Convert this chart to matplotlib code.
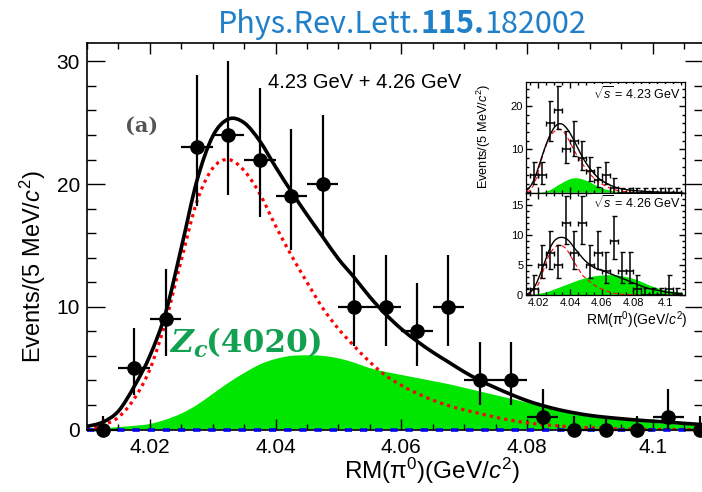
import numpy as np
import matplotlib
matplotlib.use('Agg')
import matplotlib.pyplot as plt
from matplotlib.ticker import MultipleLocator
from matplotlib.path import Path
from matplotlib.patches import PathPatch

plt.rcParams['font.family'] = ['Liberation Sans', 'DejaVu Sans']
plt.rcParams['mathtext.fontset'] = 'custom'
plt.rcParams['mathtext.rm'] = 'Liberation Sans'
plt.rcParams['mathtext.it'] = 'Liberation Sans:italic'
plt.rcParams['mathtext.bf'] = 'Liberation Sans:bold'

W, H = 702, 492

# --- main plot: 4.23 + 4.26 GeV summed ---
bin_x = [4.0125, 4.0175, 4.0225, 4.0275, 4.0325, 4.0375, 4.0425, 4.0475, 4.0525, 4.0575,
         4.0625, 4.0675, 4.0725, 4.0775, 4.0825, 4.0875, 4.0925, 4.0975, 4.1025, 4.1075]
counts = [0, 5, 9, 23, 24, 22, 19, 20, 10, 10, 8, 10, 4, 4, 1, 0, 0, 0, 1, 0]
err_hi = [1.1, 3.3, 4.1, 5.9, 6.0, 5.8, 5.5, 5.6, 4.2, 4.2, 3.9, 4.2, 3.1, 3.1, 2.3, 1.1, 1.1, 1.1, 2.3, 1.1]
err_lo = [0, 2.2, 3.0, 4.8, 4.9, 4.7, 4.4, 4.5, 3.2, 3.2, 2.8, 3.2, 2.0, 2.0, 1.0, 0, 0, 0, 1.0, 0]

curve_x = [4.010, 4.0125, 4.015, 4.0175, 4.020, 4.0225, 4.025, 4.0275, 4.030, 4.0325,
           4.035, 4.0375, 4.040, 4.0425, 4.045, 4.0475, 4.050, 4.0525, 4.055, 4.0575,
           4.060, 4.0625, 4.065, 4.0675, 4.070, 4.0725, 4.075, 4.0775, 4.080, 4.0825,
           4.085, 4.0875, 4.090, 4.0925, 4.095, 4.0975, 4.100, 4.1025, 4.105, 4.108]
total_fit = [0.25, 0.6, 1.5, 3.5, 6.0, 9.5, 14.8, 20.3, 23.9, 25.3,
             25.0, 23.5, 21.4, 19.4, 17.5, 15.7, 13.9, 12.4, 10.8, 9.4,
             8.2, 7.2, 6.3, 5.5, 4.7, 4.0, 3.4, 2.85, 2.35, 1.95,
             1.62, 1.36, 1.15, 1.0, 0.88, 0.77, 0.68, 0.6, 0.5, 0.4]
signal = [0.0, 0.35, 1.0, 2.5, 4.9, 8.8, 13.8, 18.6, 21.3, 22.0,
          21.1, 19.2, 16.6, 14.2, 12.0, 9.9, 8.2, 6.8, 5.5, 4.4,
          3.6, 2.95, 2.4, 1.95, 1.6, 1.3, 1.0, 0.75, 0.55, 0.4,
          0.3, 0.2, 0.15, 0.1, 0.05, 0.02, 0.0, 0.0, 0.0, 0.0]
bkg_green = [0.05, 0.1, 0.2, 0.3, 0.45, 0.8, 1.3, 2.0, 2.9, 3.8,
             4.6, 5.3, 5.75, 6.0, 6.05, 6.0, 5.8, 5.45, 5.0, 4.7,
             4.45, 4.2, 3.95, 3.7, 3.4, 3.1, 2.8, 2.5, 2.2, 1.9,
             1.55, 1.32, 1.1, 0.92, 0.78, 0.66, 0.55, 0.46, 0.38, 0.3]

# --- inset data ---
in_bin_x = [4.0125, 4.0175, 4.0225, 4.0275, 4.0325, 4.0375, 4.0425, 4.0475, 4.0525, 4.0575,
            4.0625, 4.0675, 4.0725, 4.0775, 4.0825, 4.0875, 4.0925, 4.0975, 4.1025, 4.1075]
c423 = [0, 4, 4, 16, 19, 10, 12, 8, 5, 3, 4, 1, 0, 0, 0, 0, 0, 0, 0, 0]
c423_hi = [1.1, 3.1, 3.1, 5.1, 5.5, 4.2, 4.5, 3.9, 3.3, 2.9, 3.1, 2.3, 1.1, 1.1, 1.1, 1.1, 1.1, 1.1, 1.1, 1.1]
c423_lo = [0, 2.0, 2.0, 4.0, 4.4, 3.2, 3.5, 2.8, 2.2, 1.7, 2.0, 1.0, 0, 0, 0, 0, 0, 0, 0, 0]
c426 = [0, 1, 5, 7, 5, 12, 7, 12, 5, 7, 4, 9, 4, 4, 1, 0, 0, 0, 1, 0]
c426_hi = [1.1, 2.3, 3.3, 3.7, 3.3, 4.5, 3.7, 4.5, 3.3, 3.7, 3.1, 4.1, 3.1, 3.1, 2.3, 1.1, 1.1, 1.1, 2.3, 1.1]
c426_lo = [0, 1.0, 2.2, 2.6, 2.2, 3.5, 2.6, 3.5, 2.2, 2.6, 2.0, 3.0, 2.0, 2.0, 1.0, 0, 0, 0, 1.0, 0]

up_x = [4.0125, 4.015, 4.0175, 4.02, 4.0225, 4.025, 4.0275, 4.03, 4.0325, 4.035, 4.0375, 4.04, 4.0425,
        4.045, 4.0475, 4.05, 4.0525, 4.055, 4.0575, 4.06, 4.065, 4.07, 4.075, 4.08, 4.09, 4.1, 4.111]
up_total = [0.5, 1.5, 3.2, 5.8, 8.6, 11.2, 13.4, 15.0, 15.8, 15.8, 15.0, 13.7, 12.0,
            10.2, 8.4, 6.9, 5.6, 4.5, 3.5, 2.8, 1.8, 1.1, 0.75, 0.5, 0.25, 0.1, 0.05]
up_signal = [0.2, 0.6, 2.2, 4.9, 8.3, 11.0, 13.0, 14.1, 14.6, 14.4, 13.2, 11.6, 9.8,
             8.2, 6.8, 5.5, 4.3, 3.4, 2.6, 2.0, 1.1, 0.5, 0.25, 0.1, 0.0, 0.0, 0.0]
up_green = [0, 0, 0, 0.02, 0.1, 0.25, 0.6, 1.1, 1.7, 2.2, 2.7, 3.1, 3.3,
            3.3, 3.1, 2.8, 2.4, 1.9, 1.45, 1.05, 0.5, 0.2, 0.05, 0, 0, 0, 0]

lo_x = [4.0125, 4.015, 4.0175, 4.02, 4.0225, 4.025, 4.0275, 4.03, 4.0325, 4.035, 4.0375, 4.04, 4.0425,
        4.045, 4.0475, 4.05, 4.055, 4.06, 4.065, 4.07, 4.075, 4.08, 4.085, 4.09, 4.095, 4.1, 4.105, 4.111]
lo_total = [0.1, 0.5, 1.3, 2.7, 4.4, 6.2, 7.9, 9.0, 9.5, 9.6, 9.4, 8.8, 7.9,
            7.1, 6.3, 5.6, 4.6, 4.1, 3.6, 3.07, 2.55, 2.0, 1.5, 1.05, 0.8, 0.53, 0.35, 0.18]
lo_signal = [0.05, 0.3, 0.9, 1.8, 3.6, 5.5, 7.0, 7.8, 8.3, 8.2, 7.7, 6.7, 5.5,
             4.5, 3.4, 2.8, 1.7, 1.0, 0.5, 0.2, 0.1, 0.05, 0, 0, 0, 0, 0, 0]
lo_green = [0, 0.02, 0.06, 0.15, 0.3, 0.45, 0.65, 0.9, 1.15, 1.4, 1.65, 1.9, 2.15,
            2.4, 2.6, 2.8, 3.1, 3.25, 3.3, 3.25, 3.0, 2.7, 2.2, 1.6, 1.15, 0.75, 0.55, 0.4]

GREEN = '#00e600'
HALF_BIN = 0.0025


def frac(x, y):
    """pixel (origine en haut a gauche) -> fraction de figure"""
    return x / W, 1 - y / H


def ax_rect(x0, y0, x1, y1):
    return [x0 / W, 1 - y1 / H, (x1 - x0) / W, (y1 - y0) / H]


def smooth_verts(xs, ys):
    """Courbe lisse (Bezier Catmull-Rom) passant par les points lus."""
    pts = np.column_stack([xs, ys]).astype(float)
    verts = [pts[0]]
    codes = [Path.MOVETO]
    n = len(pts)
    for i in range(n - 1):
        p0 = pts[i - 1] if i > 0 else pts[i]
        p1, p2 = pts[i], pts[i + 1]
        p3 = pts[i + 2] if i + 2 < n else pts[i + 1]
        verts += [p1 + (p2 - p0) / 6, p2 - (p3 - p1) / 6, p2]
        codes += [Path.CURVE4] * 3
    return verts, codes


def smooth_line(ax, xs, ys, **kw):
    v, c = smooth_verts(xs, ys)
    ax.add_patch(PathPatch(Path(v, c), fill=False, **kw))


def smooth_fill(ax, xs, ys, **kw):
    v, c = smooth_verts(xs, ys)
    v = v + [(xs[-1], 0), (xs[0], 0), (xs[0], 0)]
    c = c + [Path.LINETO, Path.LINETO, Path.CLOSEPOLY]
    ax.add_patch(PathPatch(Path(v, c), **kw))


def style_ticks(ax, size, maj_x, min_x, maj_y, min_y, labsize, pad_x, pad_y):
    ax.tick_params(which='both', direction='in', top=True, right=True, width=1.0, colors='black')
    ax.tick_params(axis='x', which='major', length=maj_x, labelsize=labsize, pad=pad_x)
    ax.tick_params(axis='x', which='minor', length=min_x)
    ax.tick_params(axis='y', which='major', length=maj_y, labelsize=labsize, pad=pad_y)
    ax.tick_params(axis='y', which='minor', length=min_y)
    for s in ax.spines.values():
        s.set_linewidth(size)


def chain_text(fig, pieces, x, y, ha='center'):
    """Place plusieurs morceaux de texte cote a cote sur la meme ligne de base."""
    r = fig.canvas.get_renderer()
    texts = []
    widths = []
    for s, kw, dy in pieces:
        t = fig.text(0, 0, s, ha='left', va='baseline', **kw)
        widths.append(t.get_window_extent(r).width)
        texts.append(t)
    total = sum(widths)
    x0 = x - total / 2 if ha == 'center' else x
    for t, w, (s, kw, dy) in zip(texts, widths, pieces):
        t.set_position(frac(x0, y + dy))
        x0 += w


fig = plt.figure(figsize=(W / 100, H / 100), dpi=100)

# ------------------------------------------------------------------
# Main plot
# ------------------------------------------------------------------
ax = fig.add_axes(ax_rect(87, 43, 703, 429.5))
ax.set_xlim(4.01, 4.108)
ax.set_ylim(0, 31.5)

smooth_fill(ax, curve_x, bkg_green, facecolor=GREEN, lw=0, zorder=1)
smooth_line(ax, curve_x, signal, edgecolor='red', lw=2.3, linestyle=(0, (1, 1.3)), zorder=2)
smooth_line(ax, curve_x, total_fit, edgecolor='black', lw=2.6, zorder=3)
ax.plot([4.01, 4.108], [0, 0], color='#0000ee', lw=2.6, linestyle=(0, (2, 2.2)), zorder=3, clip_on=False)
ax.errorbar(bin_x, counts, yerr=[err_lo, err_hi], xerr=HALF_BIN, fmt='o', color='black',
            ms=9.5, elinewidth=1.6, capsize=0, zorder=4, clip_on=False)

ax.xaxis.set_major_locator(MultipleLocator(0.02))
ax.xaxis.set_minor_locator(MultipleLocator(0.005))
ax.yaxis.set_major_locator(MultipleLocator(10))
ax.yaxis.set_minor_locator(MultipleLocator(2))
ax.set_xticks([4.02, 4.04, 4.06, 4.08, 4.1])
ax.set_xticklabels(['4.02', '4.04', '4.06', '4.08', '4.1'])
style_ticks(ax, 1.2, 8, 4, 13, 6.5, 15, 6, 5)

fig.text(*frac(33, 267), r'Events/(5 MeV/$c^2$)', rotation=90, ha='center', va='center', fontsize=17)
fig.text(*frac(432, 471), r'RM(π$^0$)(GeV/$c^2$)', ha='center', va='center', fontsize=17.5)
fig.text(*frac(365, 82), '4.23 GeV + 4.26 GeV', ha='center', va='center', fontsize=14.5)
fig.text(*frac(142, 126), '(a)', ha='center', va='center', fontsize=15,
         family='DejaVu Serif', weight='bold', color='#555555')

chain_text(fig, [
    ('Z', dict(fontsize=22.5, family='DejaVu Serif', weight='bold', style='italic', color='#12a150'), 0),
    ('c', dict(fontsize=16, family='DejaVu Serif', weight='bold', style='italic', color='#12a150'), 5),
    ('(4020)', dict(fontsize=22.5, family='DejaVu Serif', weight='bold', color='#12a150'), 0),
], 170, 352, ha='left')

chain_text(fig, [
    ('Phys.Rev.Lett.', dict(fontsize=22, family='Noto Sans CJK SC', color='#1f7fc8'), 0),
    ('115.', dict(fontsize=22, family='Noto Sans CJK SC', weight='bold', color='#1f7fc8'), 0),
    ('182002', dict(fontsize=22, family='Noto Sans CJK SC', color='#1f7fc8'), 0),
], 402, 33)

# ------------------------------------------------------------------
# Inset: 4.23 GeV (haut) et 4.26 GeV (bas)
# ------------------------------------------------------------------
in_xlim = (4.0122, 4.1125)
axu = fig.add_axes(ax_rect(526, 82, 685, 192.7), zorder=5)
axl = fig.add_axes(ax_rect(526, 192.7, 685, 295), zorder=5)

panels = [
    (axu, c423, c423_lo, c423_hi, up_x, up_total, up_signal, up_green, (0, 25.5), 10, 2,
     r'$\sqrt{s}$ = 4.23 GeV'),
    (axl, c426, c426_lo, c426_hi, lo_x, lo_total, lo_signal, lo_green, (0, 17.05), 5, 1,
     r'$\sqrt{s}$ = 4.26 GeV'),
]
for a, cts, elo, ehi, cx, ctot, csig, cgr, ylim, ymaj, ymin, lab in panels:
    a.set_facecolor('white')
    smooth_fill(a, cx, cgr, facecolor=GREEN, lw=0, zorder=1)
    smooth_line(a, cx, csig, edgecolor='red', lw=0.8, linestyle=(0, (4, 2.5)), zorder=2)
    smooth_line(a, cx, ctot, edgecolor='black', lw=1.0, zorder=3)
    a.errorbar(in_bin_x, cts, yerr=[elo, ehi], xerr=HALF_BIN, fmt='none', ecolor='black',
               elinewidth=1.1, capsize=1.8, capthick=1.0, zorder=4)
    a.set_xlim(*in_xlim)
    a.set_ylim(*ylim)
    a.xaxis.set_major_locator(MultipleLocator(0.02))
    a.xaxis.set_minor_locator(MultipleLocator(0.005))
    a.yaxis.set_major_locator(MultipleLocator(ymaj))
    a.yaxis.set_minor_locator(MultipleLocator(ymin))
    style_ticks(a, 0.9, 4, 2, 4, 2, 8, 2.5, 2)
    a.text(0.97, 0.9, lab, transform=a.transAxes, ha='right', va='center', fontsize=9,
           bbox=dict(facecolor='white', edgecolor='none', pad=0.5))

axu.set_xticklabels([])
axu.set_yticks([10, 20])
axl.set_yticks([0, 5, 10, 15])
axl.set_xticks([4.02, 4.04, 4.06, 4.08, 4.1])
axl.set_xticklabels(['4.02', '4.04', '4.06', '4.08', '4.1'])

fig.text(*frac(484, 137), r'Events/(5 MeV/$c^2$)', rotation=90, ha='center', va='center', fontsize=9.2)
fig.text(*frac(637, 320), r'RM(π$^0$)(GeV/$c^2$)', ha='center', va='center', fontsize=10)

fig.savefig('out.png', dpi=100)
